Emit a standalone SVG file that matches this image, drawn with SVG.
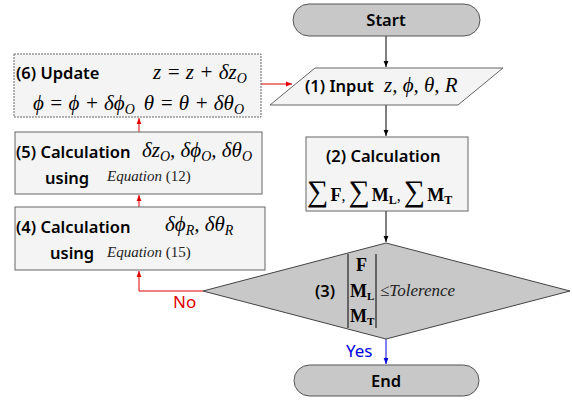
<svg xmlns="http://www.w3.org/2000/svg" width="572" height="400" viewBox="0 0 572 400">
<defs>
<marker id="ak" viewBox="0 0 10 10" refX="10" refY="5" markerWidth="6" markerHeight="6" orient="auto"><path d="M0,1 L10,5 L0,9 Z" fill="#000"/></marker>
<marker id="ar" viewBox="0 0 10 10" refX="10" refY="5" markerWidth="6" markerHeight="6" orient="auto"><path d="M0,1 L10,5 L0,9 Z" fill="#e00000"/></marker>
<marker id="ab" viewBox="0 0 10 10" refX="10" refY="5" markerWidth="6" markerHeight="6" orient="auto"><path d="M0,1 L10,5 L0,9 Z" fill="#0000e0"/></marker>
</defs>
<style>
.term{fill:#c8c8c8;stroke:#555;stroke-width:1}
.box{fill:#f4f4f4;stroke:#666;stroke-width:1}
.dia{fill:#c8c8c8;stroke:#444;stroke-width:1}
.lab{font-family:"Noto Sans","Open Sans",sans-serif;font-weight:600;font-size:16.5px;fill:#000}
.m{font-family:"Liberation Serif",serif;font-style:italic;font-size:21px;fill:#000}
.mb{font-family:"Liberation Serif",serif;font-weight:bold;font-size:18px;fill:#000}
.eq{font-family:"Liberation Serif",serif;font-size:15px;fill:#222}
.k{stroke:#000;stroke-width:1;fill:none}
.r{stroke:#e00000;stroke-width:1;fill:none}
.b{stroke:#0000e0;stroke-width:1;fill:none}
</style>
<g id="connectors">
<line class="k" x1="386" y1="36" x2="386" y2="67" marker-end="url(#ak)"/>
<line class="k" x1="386" y1="105" x2="386" y2="136" marker-end="url(#ak)"/>
<line class="k" x1="386" y1="211" x2="386" y2="242" marker-end="url(#ak)"/>
<line class="b" x1="386" y1="339" x2="386" y2="364" marker-end="url(#ab)"/>
<polyline class="r" points="203,291 139,291 139,271" marker-end="url(#ar)"/>
<line class="r" x1="139" y1="207" x2="139" y2="195" marker-end="url(#ar)"/>
<line class="r" x1="139" y1="132" x2="139" y2="118" marker-end="url(#ar)"/>
<line class="r" x1="261" y1="84" x2="292" y2="84" marker-end="url(#ar)"/>
<text x="173" y="308" font-family="Noto Sans,sans-serif" font-size="17" fill="#e00000">No</text>
<text x="346" y="357" font-family="Noto Sans,sans-serif" font-size="17" fill="#0000e0">Yes</text>
</g>
<g id="start">
<rect class="term" x="293" y="4" width="187" height="32" rx="16"/>
<text class="lab" x="386" y="26" text-anchor="middle">Start</text>
</g>
<g id="input">
<polygon class="box" points="315,68 503,68 458,105 270,105"/>
<text class="lab" x="305" y="92">(1) Input</text>
<text class="m" x="384" y="92" font-size="22">z, ϕ, θ, R</text>
</g>
<g id="calc2">
<rect class="box" x="306" y="137" width="162" height="74"/>
<text class="lab" x="326" y="162">(2) Calculation</text>
<text x="307" y="201" font-family="Liberation Serif,serif" font-size="30">∑<tspan class="mb" font-size="22" dx="2">F</tspan><tspan font-size="16">,</tspan><tspan dx="3">∑</tspan><tspan class="mb" font-size="22" dx="2">M<tspan font-size="12" dy="3">L</tspan></tspan><tspan font-size="16" dy="-3">,</tspan><tspan dx="3">∑</tspan><tspan class="mb" font-size="22" dx="2">M<tspan font-size="12" dy="3">T</tspan></tspan></text>
</g>
<g id="decision">
<polygon class="dia" points="386,243 570,291 386,339 203,291"/>
<text class="lab" x="315" y="297">(3)</text>
<line class="k" x1="348" y1="254" x2="348" y2="328"/>
<line class="k" x1="376" y1="254" x2="376" y2="328"/>
<text class="mb" x="356" y="271">F</text>
<text class="mb" x="350" y="297">M<tspan font-size="11" dy="3">L</tspan></text>
<text class="mb" x="350" y="322">M<tspan font-size="11" dy="3">T</tspan></text>
<text x="380" y="296" font-family="Liberation Serif,serif" font-size="17" fill="#222">≤<tspan font-style="italic">Tolerence</tspan></text>
</g>
<g id="end">
<rect class="term" x="294" y="365" width="185" height="31" rx="15.5"/>
<text class="lab" x="386" y="387" text-anchor="middle">End</text>
</g>
<g id="update6">
<rect class="box" x="14" y="54" width="247" height="63" stroke-dasharray="2,1"/>
<text class="lab" x="16" y="79">(6) Update</text>
<text class="m" x="153" y="79">z = z + δz<tspan font-size="14" dy="4">O</tspan></text>
<text class="m" x="33" y="110">ϕ = ϕ + δϕ<tspan font-size="14" dy="4">O</tspan><tspan dy="-4" dx="9">θ = θ + δθ</tspan><tspan font-size="14" dy="4">O</tspan></text>
</g>
<g id="calc5">
<rect class="box" x="15" y="132" width="247" height="62"/>
<text class="lab" x="16" y="158">(5) Calculation</text>
<text class="m" x="142" y="157">δz<tspan font-size="14" dy="4">O</tspan><tspan dy="-4">, δϕ</tspan><tspan font-size="14" dy="4">O</tspan><tspan dy="-4">, δθ</tspan><tspan font-size="14" dy="4">O</tspan></text>
<text class="lab" x="45" y="184">using</text>
<text class="eq" x="107" y="181"><tspan font-style="italic">Equation</tspan> (12)</text>
</g>
<g id="calc4">
<rect class="box" x="15" y="207" width="250" height="63"/>
<text class="lab" x="16" y="233">(4) Calculation</text>
<text class="m" x="165" y="231">δϕ<tspan font-size="14" dy="4">R</tspan><tspan dy="-4">, δθ</tspan><tspan font-size="14" dy="4">R</tspan></text>
<text class="lab" x="50" y="259">using</text>
<text class="eq" x="107" y="257"><tspan font-style="italic">Equation</tspan> (15)</text>
</g>
</svg>
